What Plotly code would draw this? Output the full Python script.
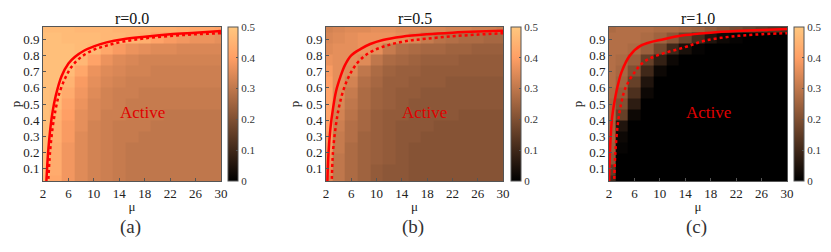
import plotly.graph_objects as go

# grid of the simulation
mu = [2, 4, 6, 8, 10, 12, 14, 16, 18, 20, 22, 24, 26, 28, 30]
p = [0.025, 0.093, 0.161, 0.229, 0.296, 0.364, 0.432, 0.500,
     0.568, 0.636, 0.704, 0.771, 0.839, 0.907, 0.975]

# heatmap values, rows from p=0.025 (bottom) to p=0.975 (top)
z_r00 = [
    [0.47, 0.42, 0.38, 0.35, 0.33, 0.32, 0.31, 0.30, 0.30, 0.30, 0.30, 0.30, 0.30, 0.30, 0.30],
    [0.48, 0.43, 0.38, 0.35, 0.33, 0.32, 0.31, 0.30, 0.30, 0.30, 0.30, 0.30, 0.30, 0.30, 0.30],
    [0.48, 0.43, 0.38, 0.35, 0.33, 0.32, 0.31, 0.30, 0.30, 0.30, 0.30, 0.30, 0.30, 0.30, 0.30],
    [0.48, 0.43, 0.38, 0.35, 0.33, 0.32, 0.31, 0.30, 0.30, 0.30, 0.30, 0.30, 0.30, 0.30, 0.30],
    [0.48, 0.44, 0.39, 0.35, 0.33, 0.32, 0.31, 0.31, 0.30, 0.30, 0.30, 0.30, 0.30, 0.30, 0.30],
    [0.48, 0.44, 0.39, 0.36, 0.33, 0.32, 0.31, 0.31, 0.31, 0.30, 0.30, 0.30, 0.30, 0.30, 0.30],
    [0.48, 0.45, 0.40, 0.36, 0.34, 0.32, 0.32, 0.31, 0.31, 0.31, 0.30, 0.30, 0.30, 0.30, 0.30],
    [0.48, 0.47, 0.41, 0.37, 0.34, 0.33, 0.32, 0.31, 0.31, 0.31, 0.31, 0.31, 0.31, 0.31, 0.31],
    [0.48, 0.47, 0.43, 0.38, 0.35, 0.33, 0.32, 0.32, 0.31, 0.31, 0.31, 0.31, 0.31, 0.31, 0.31],
    [0.48, 0.48, 0.45, 0.39, 0.36, 0.34, 0.33, 0.32, 0.32, 0.32, 0.32, 0.32, 0.32, 0.32, 0.32],
    [0.48, 0.48, 0.47, 0.42, 0.37, 0.35, 0.34, 0.33, 0.33, 0.32, 0.32, 0.32, 0.32, 0.32, 0.32],
    [0.48, 0.48, 0.48, 0.46, 0.41, 0.37, 0.35, 0.34, 0.33, 0.33, 0.33, 0.33, 0.33, 0.33, 0.33],
    [0.48, 0.48, 0.48, 0.47, 0.46, 0.42, 0.39, 0.37, 0.36, 0.35, 0.35, 0.34, 0.34, 0.34, 0.34],
    [0.48, 0.48, 0.47, 0.47, 0.47, 0.46, 0.46, 0.45, 0.44, 0.41, 0.39, 0.38, 0.37, 0.37, 0.36],
    [0.47, 0.47, 0.47, 0.46, 0.46, 0.46, 0.45, 0.45, 0.45, 0.44, 0.44, 0.43, 0.42, 0.42, 0.41],
]

z_r05 = [
    [0.34, 0.30, 0.27, 0.25, 0.23, 0.22, 0.22, 0.21, 0.21, 0.21, 0.21, 0.21, 0.21, 0.21, 0.21],
    [0.36, 0.30, 0.27, 0.25, 0.23, 0.22, 0.22, 0.21, 0.21, 0.21, 0.21, 0.21, 0.21, 0.21, 0.21],
    [0.37, 0.30, 0.27, 0.25, 0.24, 0.23, 0.22, 0.21, 0.21, 0.21, 0.21, 0.21, 0.21, 0.21, 0.21],
    [0.38, 0.31, 0.27, 0.25, 0.24, 0.23, 0.22, 0.21, 0.21, 0.21, 0.21, 0.21, 0.21, 0.21, 0.21],
    [0.39, 0.31, 0.28, 0.25, 0.24, 0.23, 0.22, 0.22, 0.21, 0.21, 0.21, 0.21, 0.21, 0.21, 0.21],
    [0.40, 0.32, 0.28, 0.26, 0.24, 0.23, 0.22, 0.22, 0.22, 0.21, 0.21, 0.21, 0.21, 0.21, 0.21],
    [0.41, 0.33, 0.29, 0.26, 0.24, 0.23, 0.23, 0.22, 0.22, 0.22, 0.22, 0.21, 0.21, 0.21, 0.21],
    [0.41, 0.34, 0.30, 0.27, 0.25, 0.24, 0.23, 0.22, 0.22, 0.22, 0.22, 0.22, 0.22, 0.22, 0.22],
    [0.41, 0.35, 0.31, 0.27, 0.25, 0.24, 0.23, 0.23, 0.22, 0.22, 0.22, 0.22, 0.22, 0.22, 0.22],
    [0.40, 0.36, 0.33, 0.28, 0.26, 0.24, 0.24, 0.23, 0.23, 0.23, 0.22, 0.22, 0.22, 0.22, 0.22],
    [0.39, 0.36, 0.35, 0.30, 0.27, 0.25, 0.24, 0.24, 0.23, 0.23, 0.23, 0.23, 0.23, 0.23, 0.23],
    [0.37, 0.36, 0.36, 0.35, 0.30, 0.27, 0.26, 0.25, 0.24, 0.24, 0.24, 0.23, 0.23, 0.23, 0.23],
    [0.35, 0.36, 0.36, 0.37, 0.36, 0.31, 0.28, 0.27, 0.26, 0.26, 0.25, 0.25, 0.24, 0.24, 0.24],
    [0.34, 0.35, 0.36, 0.37, 0.37, 0.37, 0.36, 0.34, 0.31, 0.29, 0.28, 0.27, 0.27, 0.26, 0.26],
    [0.33, 0.34, 0.35, 0.35, 0.36, 0.36, 0.35, 0.35, 0.34, 0.34, 0.33, 0.33, 0.32, 0.32, 0.31],
]

z_r10 = [
    [0.10, 0.00, 0.00, 0.00, 0.00, 0.00, 0.00, 0.00, 0.00, 0.00, 0.00, 0.00, 0.00, 0.00, 0.00],
    [0.15, 0.00, 0.00, 0.00, 0.00, 0.00, 0.00, 0.00, 0.00, 0.00, 0.00, 0.00, 0.00, 0.00, 0.00],
    [0.22, 0.00, 0.00, 0.00, 0.00, 0.00, 0.00, 0.00, 0.00, 0.00, 0.00, 0.00, 0.00, 0.00, 0.00],
    [0.24, 0.01, 0.00, 0.00, 0.00, 0.00, 0.00, 0.00, 0.00, 0.00, 0.00, 0.00, 0.00, 0.00, 0.00],
    [0.25, 0.02, 0.00, 0.00, 0.00, 0.00, 0.00, 0.00, 0.00, 0.00, 0.00, 0.00, 0.00, 0.00, 0.00],
    [0.25, 0.05, 0.00, 0.00, 0.00, 0.00, 0.00, 0.00, 0.00, 0.00, 0.00, 0.00, 0.00, 0.00, 0.00],
    [0.26, 0.16, 0.02, 0.00, 0.00, 0.00, 0.00, 0.00, 0.00, 0.00, 0.00, 0.00, 0.00, 0.00, 0.00],
    [0.26, 0.20, 0.07, 0.00, 0.00, 0.00, 0.00, 0.00, 0.00, 0.00, 0.00, 0.00, 0.00, 0.00, 0.00],
    [0.27, 0.23, 0.12, 0.02, 0.00, 0.00, 0.00, 0.00, 0.00, 0.00, 0.00, 0.00, 0.00, 0.00, 0.00],
    [0.28, 0.25, 0.16, 0.05, 0.00, 0.00, 0.00, 0.00, 0.00, 0.00, 0.00, 0.00, 0.00, 0.00, 0.00],
    [0.28, 0.26, 0.20, 0.10, 0.02, 0.00, 0.00, 0.00, 0.00, 0.00, 0.00, 0.00, 0.00, 0.00, 0.00],
    [0.28, 0.27, 0.24, 0.16, 0.08, 0.02, 0.00, 0.00, 0.00, 0.00, 0.00, 0.00, 0.00, 0.00, 0.00],
    [0.28, 0.28, 0.27, 0.24, 0.18, 0.10, 0.04, 0.01, 0.00, 0.00, 0.00, 0.00, 0.00, 0.00, 0.00],
    [0.28, 0.28, 0.28, 0.27, 0.25, 0.22, 0.17, 0.11, 0.05, 0.02, 0.01, 0.00, 0.00, 0.00, 0.00],
    [0.27, 0.28, 0.28, 0.28, 0.27, 0.27, 0.26, 0.25, 0.23, 0.21, 0.19, 0.17, 0.15, 0.13, 0.11],
]

# critical lines (solid and dotted) for each r
mu_a_solid = [2.5, 2.8, 3.1, 3.5, 4.0, 4.9, 6.0, 7.0, 8.5, 10, 12, 14.6, 18, 22, 26, 30]
p_a_solid = [0.0, 0.2, 0.33, 0.45, 0.55, 0.67, 0.75, 0.79, 0.83, 0.855, 0.88, 0.9, 0.915, 0.93, 0.94, 0.95]
mu_a_dot = [2.8, 3.1, 3.5, 4.0, 4.6, 5.5, 6.5, 8, 10, 12, 14.6, 18, 22, 26, 30]
p_a_dot = [0.0, 0.2, 0.35, 0.47, 0.57, 0.66, 0.73, 0.79, 0.835, 0.86, 0.885, 0.905, 0.92, 0.93, 0.937]

mu_b_solid = [2.2, 2.4, 2.7, 3.1, 3.6, 4.3, 5.0, 6.0, 7.5, 9, 11, 14, 18, 22, 26, 30]
p_b_solid = [0.0, 0.2, 0.35, 0.47, 0.58, 0.67, 0.74, 0.8, 0.84, 0.87, 0.895, 0.915, 0.93, 0.94, 0.947, 0.952]
mu_b_dot = [2.9, 3.1, 3.5, 4.0, 4.7, 5.5, 6.5, 7.9, 9.5, 12, 15, 18, 22, 26, 30]
p_b_dot = [0.0, 0.2, 0.35, 0.47, 0.58, 0.66, 0.73, 0.79, 0.83, 0.865, 0.89, 0.903, 0.918, 0.928, 0.937]

mu_c_solid = [2.0, 2.2, 2.5, 2.8, 3.3, 4.0, 5.3, 7.0, 10.6, 14, 18, 22, 26, 30]
p_c_solid = [0.0, 0.25, 0.42, 0.5, 0.6, 0.7, 0.8, 0.86, 0.9, 0.925, 0.94, 0.95, 0.957, 0.962]
mu_c_dot = [2.8, 3.0, 3.4, 3.9, 4.6, 6.1, 7.5, 9.6, 13.9, 17, 21, 25, 30]
p_c_dot = [0.0, 0.2, 0.38, 0.5, 0.6, 0.7, 0.76, 0.8, 0.85, 0.89, 0.915, 0.928, 0.937]

titles = ["r=0.0", "r=0.5", "r=1.0"]
labels = ["(a)", "(b)", "(c)"]
x_ticks = [2, 6, 10, 14, 18, 22, 26, 30]
y_ticks = [0.1, 0.2, 0.3, 0.4, 0.5, 0.6, 0.7, 0.8, 0.9]
cbar_ticks = [0, 0.1, 0.2, 0.3, 0.4, 0.5]

# the page body has an 8px margin, so the figure is a bit smaller than the window
OFF = 8
W, H = 831 - OFF, 252 - OFF
SERIF = "Liberation Serif"
copper = [[0, "rgb(0,0,0)"], [0.8, "rgb(255,159,101)"], [1, "rgb(255,199,127)"]]


def px(x):
    return (x - OFF) / W


def py(y):
    return 1 - (y - OFF) / H


panels = [
    (z_r00, mu_a_solid, p_a_solid, mu_a_dot, p_a_dot, 43, 221, 228),
    (z_r05, mu_b_solid, p_b_solid, mu_b_dot, p_b_dot, 326, 503, 511),
    (z_r10, mu_c_solid, p_c_solid, mu_c_dot, p_c_dot, 609, 787, 794),
]

top_px, bot_px = 27, 181
y_dom = [py(bot_px), py(top_px)]

fig = go.Figure()
layout = {}
for i, (z, ms, ps, md, pd_, x0, x1, cbx) in enumerate(panels):
    n = "" if i == 0 else str(i + 1)
    xa, ya = "x" + n, "y" + n
    fig.add_trace(go.Heatmap(
        x=mu, y=p, z=z, zmin=0, zmax=0.5, colorscale=copper,
        xaxis=xa, yaxis=ya,
        colorbar=dict(x=px(cbx), xanchor="left", xpad=0, ypad=0,
                      y=sum(y_dom) / 2, yanchor="middle",
                      lenmode="pixels", len=bot_px - top_px,
                      thickness=10, outlinewidth=1, outlinecolor="#555",
                      tickvals=cbar_ticks, ticktext=["0", "0.1", "0.2", "0.3", "0.4", "0.5"],
                      ticks="inside", ticklen=2, tickcolor="#555",
                      tickfont=dict(family=SERIF, size=11, color="#333")),
    ))
    fig.add_trace(go.Scatter(x=ms, y=ps, mode="lines", line=dict(color="red", width=2.5, shape="spline"),
                             xaxis=xa, yaxis=ya, showlegend=False))
    fig.add_trace(go.Scatter(x=md, y=pd_, mode="lines", line=dict(color="red", width=2.5, dash="dot", shape="spline"),
                             xaxis=xa, yaxis=ya, showlegend=False))
    layout["xaxis" + n] = dict(domain=[px(x0), px(x1)], anchor=ya, range=[2, 30], automargin=False,
                               tickvals=x_ticks, ticks="inside", ticklen=3, tickcolor="#555",
                               showline=True, linecolor="#555", mirror=True, showgrid=False, zeroline=False,
                               tickfont=dict(family=SERIF, size=13, color="#222"),
                               title=dict(text="μ", font=dict(family=SERIF, size=13, color="#222"), standoff=2))
    layout["yaxis" + n] = dict(domain=y_dom, anchor=xa, range=[0.025, 0.975], automargin=False,
                               tickvals=y_ticks, ticks="inside", ticklen=3, tickcolor="#555",
                               showline=True, linecolor="#555", mirror=True, showgrid=False, zeroline=False,
                               tickfont=dict(family=SERIF, size=13, color="#222"),
                               title=dict(text="p", font=dict(family=SERIF, size=13, color="#222"), standoff=3))
    fig.add_annotation(x=17.6, y=0.445, xref=xa, yref=ya, text="Active", showarrow=False,
                       xanchor="center", yanchor="middle",
                       font=dict(family=SERIF, size=17, color="#e00000"))
    cx = (x0 + x1) / 2
    fig.add_annotation(x=px(cx), y=py(18.5), xref="paper", yref="paper", text=titles[i],
                       showarrow=False, xanchor="center", yanchor="middle",
                       font=dict(family=SERIF, size=16, color="#111"))
    fig.add_annotation(x=px(cx - 2), y=py(227), xref="paper", yref="paper", text=labels[i],
                       showarrow=False, xanchor="center", yanchor="middle",
                       font=dict(family=SERIF, size=19, color="#333"))

fig.update_layout(width=W, height=H, margin=dict(l=0, r=0, t=0, b=0), template="none",
                  paper_bgcolor="white", plot_bgcolor="white", showlegend=False, **layout)

fig.write_html("out.html")
